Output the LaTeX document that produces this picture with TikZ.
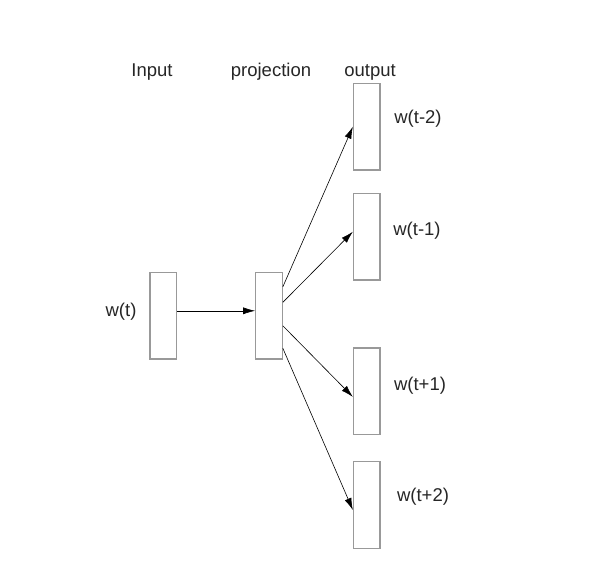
\documentclass[tikz,border=0pt]{standalone}
\usepackage{fontspec}
\setmainfont{Liberation Sans}
\usetikzlibrary{arrows.meta}
\begin{document}
\begin{tikzpicture}[x=1pt,y=-1pt,
  layer/.style={draw=black!40,line width=1.2pt,fill=white,minimum width=26.5pt,minimum height=86.5pt,inner sep=0pt},
  lbl/.style={font=\fontsize{18.5}{21}\selectfont,text=black!85,inner sep=0pt},
  conn/.style={draw=black,line width=0.6pt,-{Latex[length=12pt,width=7pt]}}]
\useasboundingbox (0,0) rectangle (594,566);
\node[layer] (in) at (163.3,315.8) {};
\node[layer] (proj) at (269,315.8) {};
\node[layer] (o1) at (366.7,126.7) {};
\node[layer] (o2) at (366.7,236.7) {};
\node[layer] (o3) at (366.7,391.2) {};
\node[layer] (o4) at (366.7,505) {};
\node[lbl,anchor=base] (tin) at (152,76) {Input};
\node[lbl,anchor=base] (tproj) at (271,76) {projection};
\node[lbl,anchor=base] (tout) at (370,76) {output};
\node[lbl] (lw) at (121,311.7) {w(t)};
\node[lbl] (l1) at (418,119) {w(t-2)};
\node[lbl] (l2) at (417,231) {w(t-1)};
\node[lbl] (l3) at (420,386) {w(t+1)};
\node[lbl] (l4) at (423,497) {w(t+2)};
\draw[conn] ([yshift=5pt]in.east) -- ([yshift=5pt]proj.west);
\draw[conn] ([yshift=29pt]proj.east) -- (o1.west);
\draw[conn] ([yshift=13.5pt]proj.east) -- ([yshift=5pt]o2.west);
\draw[conn] ([yshift=-10pt]proj.east) -- ([yshift=-5.7pt]o3.west);
\draw[conn] ([yshift=-32.5pt]proj.east) -- ([yshift=-5pt]o4.west);
\end{tikzpicture}
\end{document}
